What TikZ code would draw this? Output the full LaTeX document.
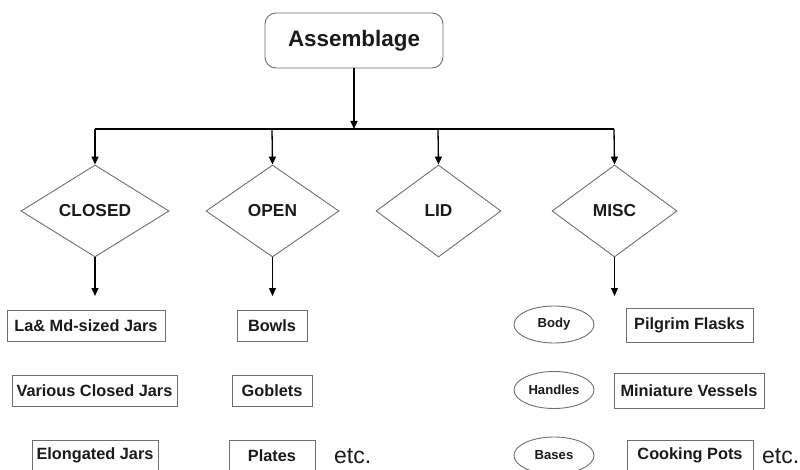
\documentclass[tikz,border=0pt]{standalone}
\usepackage{fontspec}
\setmainfont{Liberation Sans}
\usetikzlibrary{shapes.geometric,arrows.meta}
\definecolor{edge}{HTML}{6E6E6E}
\definecolor{ink}{HTML}{1A1A1A}
\tikzset{
  arr/.style={line width=1.3pt,black,-{Triangle[length=8pt,width=7pt]}},
  plain/.style={line width=1.3pt,black},
  rootbox/.style={draw=edge,text=ink,line width=0.9pt,rounded corners=11pt,minimum width=178pt,minimum height=55pt,font=\bfseries\fontsize{22.4}{26}\selectfont,inner sep=0pt},
  decide/.style={draw=edge,text=ink,line width=0.9pt,diamond,aspect=1,inner sep=0pt,font=\bfseries\fontsize{17.3}{20}\selectfont},
  itembox/.style={draw=edge,text=ink,line width=0.9pt,minimum height=31pt,inner sep=0pt,font=\bfseries\fontsize{16.3}{19}\selectfont},
  partell/.style={draw=edge,text=ink,line width=0.9pt,ellipse,minimum width=80pt,minimum height=37pt,inner sep=0pt,font=\bfseries\fontsize{13.1}{16}\selectfont},
  etcnote/.style={text=ink,font=\fontsize{23}{27}\selectfont,inner sep=0pt}
}
\begin{document}
\begin{tikzpicture}[x=1pt,y=-1pt]
\useasboundingbox (0,0) rectangle (800,470);
\node[rootbox] (root) at (354,40.5) {Assemblage};
\coordinate (hub) at (354,129);
\coordinate (b1) at (95,129);
\coordinate (b2) at (272,129);
\coordinate (b3) at (438,129);
\coordinate (b4) at (614,129);
\node[decide,minimum width=148pt,minimum height=92pt] (closed) at (95,211) {CLOSED};
\node[decide,minimum width=133pt,minimum height=92pt] (open) at (272.5,211) {OPEN};
\node[decide,minimum width=125pt,minimum height=92pt] (lid) at (438.5,211) {LID};
\node[decide,minimum width=125pt,minimum height=92pt] (misc) at (614.5,211) {MISC};
\coordinate (e1) at (95,296);
\coordinate (e2) at (272.5,296);
\coordinate (e4) at (614.5,296);
\draw[arr] (root) -- (hub);
\draw[plain] (b1) -- (b4);
\draw[arr] (b1) -- (closed.north);
\draw[arr] (b2) -- (open.north);
\draw[arr] (b3) -- (lid.north);
\draw[arr] (b4) -- (misc.north);
\draw[arr] (closed.south) -- (e1);
\draw[arr] (open.south) -- (e2);
\draw[arr] (misc.south) -- (e4);
% closed items
\node[itembox,minimum width=158pt] (c1) at (86,325.5) {La\& Md-sized Jars};
\node[itembox,minimum width=165pt] (c2) at (94.5,390.5) {Various Closed Jars};
\node[itembox,minimum width=126pt] (c3) at (95,455.5) {Elongated Jars};
% open items
\node[itembox,minimum width=70pt] (o1) at (272,325.5) {Bowls};
\node[itembox,minimum width=80pt] (o2) at (272,390.5) {Goblets};
\node[itembox,minimum width=86pt] (o3) at (272,455.5) {Plates};
\node[etcnote,anchor=west] (etc1) at (334,456) {etc.};
% misc items
\node[partell] (p1) at (554,324.5) {Body};
\node[partell] (p2) at (554,390) {Handles};
\node[partell] (p3) at (554,455.5) {Bases};
\node[itembox,minimum width=127pt,minimum height=34pt] (m1) at (689.5,325) {Pilgrim Flasks};
\node[itembox,minimum width=150pt,minimum height=35pt] (m2) at (689,390.5) {Miniature Vessels};
\node[itembox,minimum width=126pt] (m3) at (690,455.5) {Cooking Pots};
\node[etcnote,anchor=west] (etc2) at (762,456) {etc.};
\end{tikzpicture}
\end{document}
